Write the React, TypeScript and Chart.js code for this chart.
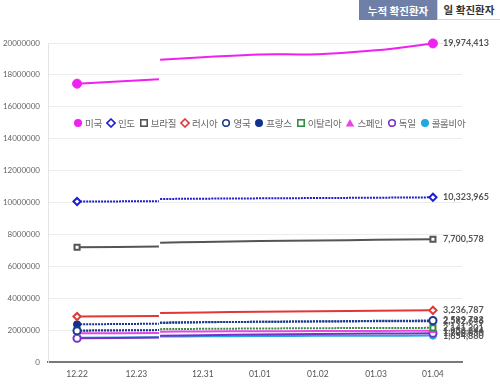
import React, { useEffect, useRef } from 'react';
import { Chart, registerables } from 'chart.js';
Chart.register(...registerables);

// x categories and their positions on the (linear) category scale
const xLabels = ['12.22', '12.23', '12.31', '01.01', '01.02', '01.03', '01.04'];
const xTickPos = [0, 1, 2.12, 3.08, 4.06, 5.04, 6];
const seg1X = [0, 1.38];
const gapX = 1.39;
const seg2X = [1.4, 2.12, 3.08, 4.06, 5.04, 6];

const yTicks = { min: 0, max: 20000000, step: 2000000 };

const countries = ['미국', '인도', '브라질', '러시아', '영국', '프랑스', '이탈리아', '스페인', '독일', '콜롬비아'];

const usSeg1 = [17450000, 17720000];
const usSeg2 = [18950000, 19100000, 19280000, 19300000, 19540000, 19974413];
const indiaSeg1 = [10060000, 10080000];
const indiaSeg2 = [10220000, 10240000, 10260000, 10280000, 10300000, 10323965];
const brazilSeg1 = [7190000, 7240000];
const brazilSeg2 = [7470000, 7530000, 7580000, 7620000, 7660000, 7700578];
const russiaSeg1 = [2850000, 2890000];
const russiaSeg2 = [3070000, 3110000, 3150000, 3180000, 3210000, 3236787];
const ukSeg1 = [1960000, 2000000];
const ukSeg2 = [2440000, 2490000, 2520000, 2550000, 2580000, 2599793];
const franceSeg1 = [2360000, 2400000];
const franceSeg2 = [2480000, 2500000, 2520000, 2540000, 2550000, 2562646];
const italySeg1 = [1980000, 2000000];
const italySeg2 = [2060000, 2080000, 2100000, 2120000, 2130000, 2141201];
const spainSeg1 = [1800000, 1820000];
const spainSeg2 = [1900000, 1910000, 1930000, 1940000, 1950000, 1958844];
const germanySeg1 = [1490000, 1530000];
const germanySeg2 = [1640000, 1680000, 1720000, 1750000, 1780000, 1808630];
const colombiaSeg1 = [1520000, 1550000];
const colombiaSeg2 = [1600000, 1610000, 1630000, 1640000, 1650000, 1654880];

const seg1Values = [usSeg1, indiaSeg1, brazilSeg1, russiaSeg1, ukSeg1, franceSeg1, italySeg1, spainSeg1, germanySeg1, colombiaSeg1];
const seg2Values = [usSeg2, indiaSeg2, brazilSeg2, russiaSeg2, ukSeg2, franceSeg2, italySeg2, spainSeg2, germanySeg2, colombiaSeg2];

type Sty = { color: string; dash: number[]; shape: 'circle' | 'rectRot' | 'rect' | 'triangle'; filled: boolean };
const styles: Sty[] = [
  { color: '#f020f0', dash: [], shape: 'circle', filled: true },
  { color: '#1c1ccc', dash: [2, 1], shape: 'rectRot', filled: false },
  { color: '#555555', dash: [], shape: 'rect', filled: false },
  { color: '#e03838', dash: [], shape: 'rectRot', filled: false },
  { color: '#1b3c8e', dash: [2, 1], shape: 'circle', filled: false },
  { color: '#12308f', dash: [2, 1], shape: 'circle', filled: true },
  { color: '#2f8f3f', dash: [2, 1], shape: 'rect', filled: false },
  { color: '#e844e8', dash: [], shape: 'triangle', filled: true },
  { color: '#7a2fc4', dash: [], shape: 'circle', filled: false },
  { color: '#22a8dc', dash: [], shape: 'circle', filled: true },
];

const FONT = "Lato, 'Noto Sans CJK KR', sans-serif";

const endLabels = {
  id: 'endLabels',
  afterDatasetsDraw(chart: any) {
    const ctx = chart.ctx;
    ctx.save();
    ctx.font = `bold 9px ${FONT}`;
    ctx.fillStyle = '#555';
    ctx.textBaseline = 'middle';
    ctx.textAlign = 'left';
    chart.data.datasets.forEach((ds: any, i: number) => {
      const meta = chart.getDatasetMeta(i);
      const pt = meta.data[meta.data.length - 1];
      const v = ds.data[ds.data.length - 1].y;
      ctx.fillText(Number(v).toLocaleString('en-US'), pt.x + 10, pt.y);
    });
    ctx.restore();
  },
};

function LegendIcon({ s }: { s: Sty }) {
  const fill = s.filled ? s.color : '#fff';
  const sw = s.filled ? 0 : 1.6;
  let shape: any;
  if (s.shape === 'circle') shape = <circle cx={5} cy={5} r={s.filled ? 4 : 3.3} fill={fill} stroke={s.color} strokeWidth={sw} />;
  else if (s.shape === 'rect') shape = <rect x={1.8} y={1.8} width={6.4} height={6.4} fill={fill} stroke={s.color} strokeWidth={sw} />;
  else if (s.shape === 'rectRot') shape = <polygon points="5,1 9,5 5,9 1,5" fill={fill} stroke={s.color} strokeWidth={sw} />;
  else shape = <polygon points="5,1 9.2,8.5 0.8,8.5" fill={fill} />;
  return (
    <svg width={10} height={10} style={{ display: 'block', marginRight: 2 }}>
      {shape}
    </svg>
  );
}

export default function App() {
  const ref = useRef<HTMLCanvasElement>(null);
  useEffect(() => {
    if (!ref.current) return;
    const datasets = countries.map((name, i) => {
      const s = styles[i];
      const data = [
        ...seg1X.map((x, j) => ({ x, y: seg1Values[i][j] })),
        { x: gapX, y: null },
        ...seg2X.map((x, j) => ({ x, y: seg2Values[i][j] })),
      ];
      const n = data.length;
      return {
        label: name,
        data,
        borderColor: s.color,
        borderWidth: 2,
        borderDash: s.dash,
        tension: 0.35,
        spanGaps: false,
        clip: false as any,
        pointStyle: s.shape,
        pointRadius: (c: any) => (c.dataIndex === 0 || c.dataIndex === n - 1 ? (i === 0 ? 4.5 : 3.6) : 0),
        pointBorderWidth: s.filled ? 1 : 2,
        pointBackgroundColor: s.filled ? s.color : '#fff',
        pointBorderColor: s.color,
      };
    });
    const chart = new Chart(ref.current, {
      type: 'line',
      data: { datasets: datasets as any },
      plugins: [endLabels],
      options: {
        animation: false,
        responsive: false,
        events: [],
        layout: { padding: { top: 43, right: 38, left: 0, bottom: 0 } },
        plugins: { legend: { display: false }, tooltip: { enabled: false } },
        scales: {
          x: {
            type: 'linear',
            min: -0.49,
            max: 6.49,
            afterBuildTicks: (scale: any) => {
              scale.ticks = xTickPos.map((v) => ({ value: v }));
            },
            afterFit: (scale: any) => {
              scale.height = 22;
            },
            grid: { display: false, drawTicks: false },
            border: { display: true, color: '#7a7a7a', width: 2 },
            ticks: {
              autoSkip: false,
              maxRotation: 0,
              padding: 7,
              color: '#555',
              font: { family: FONT, size: 8.5 },
              callback: (_v: any, idx: number) => xLabels[idx],
            },
          },
          y: {
            min: yTicks.min,
            max: yTicks.max,
            afterFit: (scale: any) => {
              scale.width = 48;
            },
            grid: { color: '#ececec', drawTicks: false },
            border: { display: true, color: '#e4e4e4', width: 1 },
            ticks: {
              stepSize: yTicks.step,
              padding: 8,
              color: '#666',
              font: { family: FONT, size: 8 },
              callback: (v: any) => String(v),
            },
          },
        },
      },
    });
    return () => chart.destroy();
  }, []);

  return (
    <div style={{ position: 'fixed', left: 0, top: 0, width: 500, height: 384, background: '#fff', fontFamily: FONT }}>
      <canvas ref={ref} width={500} height={384} style={{ position: 'absolute', left: 0, top: 0, width: 500, height: 384 }} />
      <div
        style={{
          position: 'absolute', left: 359, top: 0, width: 78, height: 20, background: '#6f80a8', color: '#fff',
          fontWeight: 'bold', fontSize: 10.5, display: 'flex', alignItems: 'center', justifyContent: 'center',
        }}
      >
        누적 확진환자
      </div>
      <div
        style={{
          position: 'absolute', left: 437, top: 0, width: 62, height: 19, background: '#fff', color: '#333',
          border: '1px solid #d4d4d4', borderTop: 'none', fontWeight: 'bold', fontSize: 10.5, display: 'flex',
          alignItems: 'center', justifyContent: 'center',
        }}
      >
        일 확진환자
      </div>
      <div
        style={{
          position: 'absolute', left: 73, top: 116, display: 'flex', alignItems: 'center', fontSize: 9.5,
          color: '#666', whiteSpace: 'nowrap', letterSpacing: -0.3,
        }}
      >
        {countries.map((c, i) => (
          <div key={c} style={{ display: 'flex', alignItems: 'center', marginRight: 4 }}>
            <LegendIcon s={styles[i]} />
            <span>{c}</span>
          </div>
        ))}
      </div>
    </div>
  );
}
